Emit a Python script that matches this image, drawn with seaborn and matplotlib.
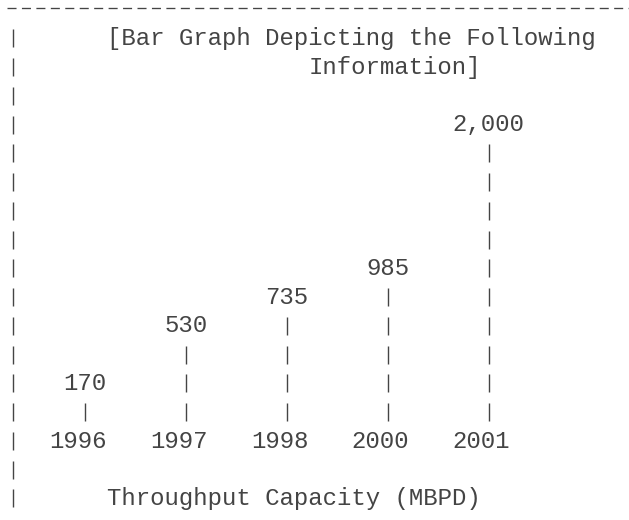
import numpy as np
import pandas as pd
import matplotlib
matplotlib.use('Agg')
import matplotlib.pyplot as plt
import seaborn as sns

# data
years = ['1996', '1997', '1998', '2000', '2001']
capacity = [170, 530, 735, 985, 2000]
value_labels = ['170', '530', '735', '985', '2,000']
title_lines = ['[Bar Graph Depicting the Following', 'Information]']
axis_title = 'Throughput Capacity (MBPD)'

# text grid (the chart is drawn as monospace "ascii art")
UNIT = 200        # MBPD per text row
CW = 14.4         # px per character
LH = 28.75        # px per line
X0 = 6.1          # left margin px
BASE0 = 16.25     # baseline of first line, px from top
W, H = 629, 520
FS = 24 * 72 / 100
YEAR_LINE = 15
COL_START, COL_STEP = 3, 7
INK = '#444444'
PIPE_S = 159      # marker area for a 17.5px "|"
PIPE_LW = 1.0

sns.set_theme(style='white')
plt.rcParams['font.family'] = ['Liberation Mono', 'DejaVu Sans Mono']
plt.rcParams['lines.scale_dashes'] = False

fig = plt.figure(figsize=(W / 100, H / 100), dpi=100)
ax = fig.add_axes([0, 0, 1, 1])
y0_px = H - (BASE0 + LH * YEAR_LINE)
xlim = (-X0 / CW, (W - X0) / CW)
ylim = (-y0_px / LH * UNIT, (H - y0_px) / LH * UNIT)
pipe_lift = 6.75 / LH * UNIT


def line_y(n):
    return (YEAR_LINE - n) * UNIT


def put(col, line, s, **kw):
    ax.text(col, line_y(line), s, ha='left', va='baseline', fontsize=FS, color=INK, **kw)


# top rule of dashes
rule_y = line_y((8 - BASE0) / LH)
ax.plot([(7.5 - X0) / CW, (W + 20 - X0) / CW], [rule_y, rule_y], color=INK, lw=0.95,
        linestyle=(0, (6.5, 3.9)), solid_capstyle='butt', dash_capstyle='butt')

# left frame
frame_lines = np.arange(1, 18)
ax.scatter(np.full(len(frame_lines), 0.5), line_y(frame_lines) + pipe_lift,
           marker='|', s=PIPE_S, color=INK, linewidths=PIPE_LW)
put(7, 1, title_lines[0])
put(21, 2, title_lines[1])
put(7, 17, axis_title)

# bars as stacked pipes, one per UNIT
rows = []
for i, (yr, v) in enumerate(zip(years, capacity)):
    n = int(round(v / UNIT))
    for k in range(1, n + 1):
        rows.append({'year': yr, 'x': COL_START + COL_STEP * i + 2.5, 'y': k * UNIT + pipe_lift})
bars = pd.DataFrame(rows)
sns.scatterplot(data=bars, x='x', y='y', marker='|', s=PIPE_S,
                color=INK, linewidth=PIPE_LW, ax=ax, legend=False)

for i, (yr, v, lab) in enumerate(zip(years, capacity, value_labels)):
    pipe_col = COL_START + COL_STEP * i + 2
    n = int(round(v / UNIT))
    ax.text(pipe_col + 0.5, (n + 1) * UNIT, lab, ha='center', va='baseline', fontsize=FS, color=INK)
    ax.text(COL_START + COL_STEP * i, 0, yr, ha='left', va='baseline', fontsize=FS, color=INK)

ax.set_xlim(*xlim)
ax.set_ylim(*ylim)
ax.axis('off')

fig.savefig('out.png', dpi=100, facecolor='white')
